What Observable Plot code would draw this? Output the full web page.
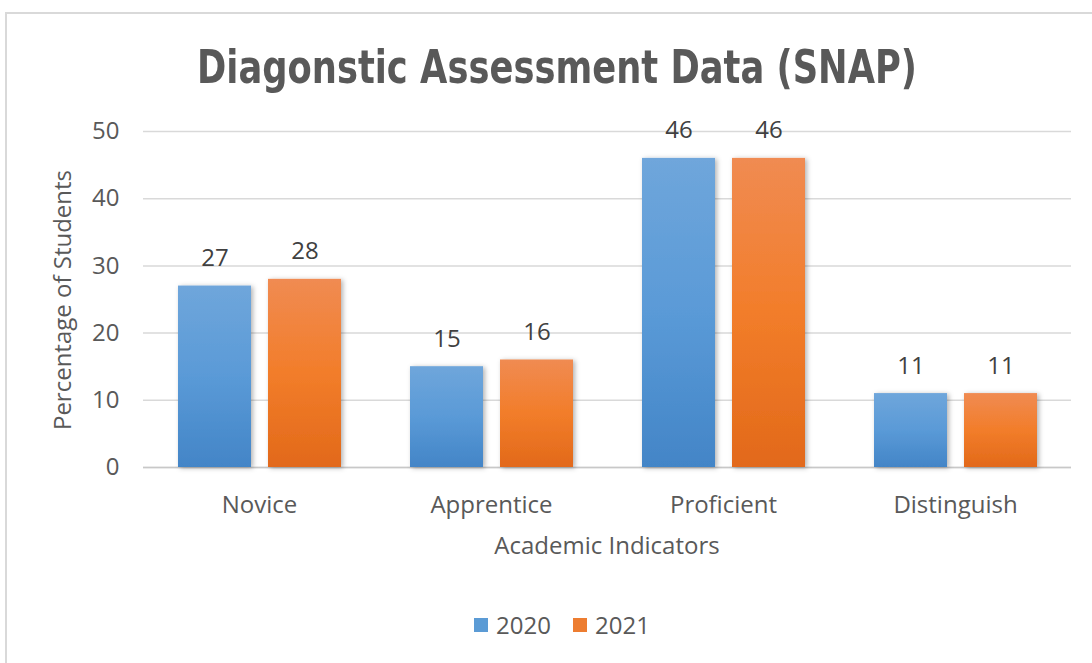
<!DOCTYPE html>
<html><head><meta charset="utf-8">
<script src="https://cdn.jsdelivr.net/npm/d3@7"></script>
<script src="https://cdn.jsdelivr.net/npm/@observablehq/plot@0.6"></script>
<style>
body{margin:0;background:#fff;width:1092px;height:663px;overflow:hidden;position:relative;font-family:"Open Sans",sans-serif;color:#595959}
#frame{position:absolute;left:5px;top:12px;width:1200px;height:800px;border-top:2px solid #d9d9d9;border-left:2px solid #d9d9d9;box-sizing:border-box}
#title{position:absolute;left:0;width:1114px;top:44px;line-height:46px;text-align:center;font-family:"Liberation Sans Narrow","DejaVu Sans Condensed",sans-serif;font-weight:bold;font-size:46px;color:#595959;white-space:nowrap;transform:scaleX(0.853);transform-origin:557px 50%}
#chart{position:absolute;left:0;top:100px}
#xlabel{position:absolute;left:143px;width:928px;top:533px;line-height:24px;text-align:center;font-size:24px;color:#595959}
#ylabel{position:absolute;left:62px;top:300px;transform:translate(-50%,-50%) rotate(-90deg);line-height:24px;font-size:24px;white-space:nowrap;color:#595959}
#legend{position:absolute;left:0;width:1124px;top:613px;line-height:24px;display:flex;justify-content:center;gap:22px;font-size:24px;color:#595959}
#legend .item{display:flex;align-items:center;gap:8px}
#legend .sw{width:14px;height:14px;display:inline-block}
</style></head>
<body>
<div id="frame"></div>
<div id="title"></div>
<div id="chart"></div>
<div id="xlabel"></div>
<div id="ylabel"></div>
<div id="legend"></div>
<script>
const titleText = "Diagonstic Assessment Data (SNAP)";
const xTitle = "Academic Indicators";
const yTitle = "Percentage of Students";
const categories = ["Novice", "Apprentice", "Proficient", "Distinguish"];
const years = ["2020", "2021"];
const values2020 = [27, 15, 46, 11];
const values2021 = [28, 16, 46, 11];
const yTicks = [0, 10, 20, 30, 40, 50];
const seriesColors = ["#5B9BD5", "#ED7D31"];
const gradTop = ["#6FA6DB", "#F08B52"];
const gradMid = ["#5A9AD7", "#F27D2A"];
const gradBottom = ["#4385C7", "#E2691A"];

const data = categories.flatMap((c, i) => [
  {cat: c, year: years[0], value: values2020[i]},
  {cat: c, year: years[1], value: values2021[i]}
]);

document.getElementById("title").textContent = titleText;
document.getElementById("xlabel").textContent = xTitle;
document.getElementById("ylabel").textContent = yTitle;

const barMarks = years.map((y, k) => Plot.barY(data, {
  filter: d => d.year === y, fx: "cat", x: "year", y: "value", fill: `url(#grad${k})`
}));

const svg = Plot.plot({
  width: 1092, height: 470,
  marginLeft: 143, marginRight: 21, marginTop: 31, marginBottom: 103,
  style: {fontFamily: '"Open Sans", sans-serif', fontSize: "24px", color: "#595959", background: "transparent", overflow: "visible"},
  fx: {domain: categories, padding: 0, label: null},
  x: {domain: years, paddingInner: 0.19, paddingOuter: 0.383, axis: null},
  y: {domain: [0, 50], label: null},
  marks: [
    Plot.gridY(yTicks, {stroke: "#d9d9d9", strokeOpacity: 1, strokeWidth: 1.5}),
    Plot.ruleY([0], {stroke: "#c8c8c8", strokeWidth: 1.5}),
    Plot.axisY(yTicks, {tickSize: 0, tickPadding: 24, label: null, fill: "#595959"}),
    Plot.axisFx({anchor: "bottom", tickSize: 0, tickPadding: 28, label: null, fill: "#595959"}),
    ...barMarks,
    Plot.text(data, {fx: "cat", x: "year", y: "value", text: d => String(d.value), lineAnchor: "bottom", dy: -20, fill: "#404040", fontSize: 24})
  ]
});

const ns = "http://www.w3.org/2000/svg";
const defs = document.createElementNS(ns, "defs");
years.forEach((y, k) => {
  const g = document.createElementNS(ns, "linearGradient");
  g.setAttribute("id", `grad${k}`);
  g.setAttribute("x1", "0"); g.setAttribute("y1", "0"); g.setAttribute("x2", "0"); g.setAttribute("y2", "1");
  [[0, gradTop[k]], [0.5, gradMid[k]], [1, gradBottom[k]]].forEach(([o, c]) => {
    const s = document.createElementNS(ns, "stop");
    s.setAttribute("offset", o); s.setAttribute("stop-color", c);
    g.appendChild(s);
  });
  defs.appendChild(g);
});
const f = document.createElementNS(ns, "filter");
f.setAttribute("id", "shadow"); f.setAttribute("x", "-20%"); f.setAttribute("y", "-20%"); f.setAttribute("width", "150%"); f.setAttribute("height", "150%");
const ds = document.createElementNS(ns, "feDropShadow");
ds.setAttribute("dx", "2"); ds.setAttribute("dy", "1"); ds.setAttribute("stdDeviation", "2.5");
ds.setAttribute("flood-color", "#000"); ds.setAttribute("flood-opacity", "0.3");
f.appendChild(ds); defs.appendChild(f);
svg.insertBefore(defs, svg.firstChild);
svg.querySelectorAll('g[aria-label="bar"] rect').forEach(r => r.setAttribute("filter", "url(#shadow)"));
document.getElementById("chart").appendChild(svg);

const legend = document.getElementById("legend");
years.forEach((y, k) => {
  const it = document.createElement("div"); it.className = "item";
  const sw = document.createElement("span"); sw.className = "sw"; sw.style.background = seriesColors[k];
  const t = document.createElement("span"); t.textContent = y;
  it.appendChild(sw); it.appendChild(t); legend.appendChild(it);
});
</script>
</body></html>
